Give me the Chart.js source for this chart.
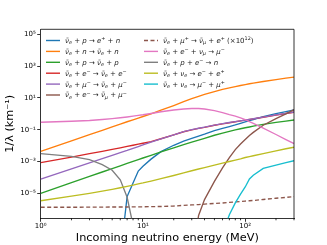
<!DOCTYPE html>
<html lang="en">
<head>
    <meta charset="UTF-8">
    <title>Neutrino opacities</title>
    <style>
        html, body { margin: 0; padding: 0; background: #fff; }
        canvas { display: block; }
    </style>
</head>
<body>
    <canvas id="myChart" width="327" height="245"></canvas>

    <script src="https://cdn.jsdelivr.net/npm/chart.js"></script>
    <script>
        // energy grid (MeV) shared by every curve
        const energy = [1, 2, 3, 4, 5, 6, 7, 8, 9, 10, 12, 15, 20, 25, 30, 35, 40, 50, 60, 70, 80, 90, 100, 110, 120, 150, 200, 250, 300];

        // 1/lambda (km^-1), null = not plotted
        const ibd = [null, null, null, null, null, 1e-9, 6.2e-6, 4.5e-5, 2.5e-4, 5.0e-4, 1.41e-3, 4.2e-3, 0.0105, 0.019, 0.0282, 0.0398, 0.0525, 0.0871, 0.120, 0.158, 0.200, 0.251, 0.309, 0.372, 0.437, 0.661, 1.02, 1.38, 1.74];
        const nScat = [4.4e-3, 2.0e-2, 4.9e-2, 9.1e-2, 0.151, 0.224, 0.316, 0.417, 0.537, 0.676, 1.0, 1.70, 3.31, 5.75, 8.91, 12.6, 16.6, 25.1, 33.9, 42.7, 51.3, 60.3, 69.2, 77.6, 85.1, 107, 141, 174, 204];
        const pScat = [1.0e-5, 4.68e-5, 1.15e-4, 2.19e-4, 3.55e-4, 5.37e-4, 7.59e-4, 1.02e-3, 1.32e-3, 1.66e-3, 2.45e-3, 3.98e-3, 7.24e-3, 0.0115, 0.0166, 0.0224, 0.0288, 0.0447, 0.0617, 0.0794, 0.0977, 0.115, 0.132, 0.148, 0.166, 0.214, 0.288, 0.347, 0.407];
        const eScat = [8.5e-4, 1.9e-3, 3.16e-3, 4.37e-3, 5.75e-3, 7.24e-3, 8.91e-3, 0.0105, 0.0123, 0.0141, 0.0178, 0.0269, 0.0479, 0.0741, 0.0977, 0.120, 0.141, 0.191, 0.234, 0.275, 0.316, 0.355, 0.398, 0.437, 0.479, 0.603, 0.832, 1.05, 1.26];
        const muScat = [7.9e-5, 3.47e-4, 8.3e-4, 1.51e-3, 2.45e-3, 3.63e-3, 5.0e-3, 6.76e-3, 8.71e-3, 0.011, 0.0166, 0.0263, 0.0468, 0.0759, 0.100, 0.123, 0.145, 0.195, 0.240, 0.282, 0.324, 0.363, 0.407, 0.447, 0.490, 0.617, 0.851, 1.07, 1.29];
        const eToMu = [null, null, null, null, null, null, null, null, null, null, null, null, null, null, 1e-9, 4.0e-7, 4.0e-6, 5.6e-5, 4.0e-4, 1.78e-3, 5.6e-3, 0.0126, 0.024, 0.0427, 0.0676, 0.191, 0.501, 1.0, 1.82];
        const muToE = [1.32e-6, 1.32e-6, 1.35e-6, 1.35e-6, 1.38e-6, 1.38e-6, 1.38e-6, 1.41e-6, 1.41e-6, 1.41e-6, 1.45e-6, 1.48e-6, 1.58e-6, 1.74e-6, 1.86e-6, 1.95e-6, 2.09e-6, 2.29e-6, 2.45e-6, 2.69e-6, 2.88e-6, 3.02e-6, 3.24e-6, 3.39e-6, 3.55e-6, 4.07e-6, 4.9e-6, 5.5e-6, 6.2e-6];
        const invMuDecay = [0.292, 0.339, 0.380, 0.437, 0.501, 0.562, 0.631, 0.708, 0.794, 0.871, 1.05, 1.35, 1.74, 2.0, 2.14, 2.14, 2.0, 1.58, 1.20, 0.891, 0.708, 0.550, 0.427, 0.324, 0.251, 0.126, 0.050, 0.024, 0.0135];
        const pe3body = [3.16e-3, 2.09e-3, 1.32e-3, 6.3e-4, 2.82e-4, 7.1e-5, 5.6e-6, 1.0e-7, null, null, null, null, null, null, null, null, null, null, null, null, null, null, null, null, null, null, null, null, null];
        const annihE = [3.39e-6, 6.6e-6, 1.0e-5, 1.38e-5, 1.78e-5, 2.24e-5, 2.75e-5, 3.31e-5, 3.89e-5, 4.47e-5, 5.89e-5, 8.3e-5, 1.32e-4, 1.91e-4, 2.63e-4, 3.39e-4, 4.17e-4, 5.89e-4, 7.94e-4, 1.0e-3, 1.23e-3, 1.48e-3, 1.78e-3, 2.04e-3, 2.29e-3, 3.16e-3, 4.68e-3, 6.31e-3, 7.94e-3];
        const annihMu = [null, null, null, null, null, null, null, null, null, null, null, null, null, null, null, null, null, null, 3e-8, 4.5e-7, 2.5e-6, 8.9e-6, 2.5e-5, 7.9e-5, 1.38e-4, 3.72e-4, 6.0e-4, 8.5e-4, 1.12e-3];

        // legend labels (_ = subscript, ^ = superscript)
        const labels = [
            'ν̄_e + p → e^+ + n',
            'ν̄_e + n → ν̄_e + n',
            'ν̄_e + p → ν̄_e + p',
            'ν̄_e + e^− → ν̄_e + e^−',
            'ν̄_e + μ^− → ν̄_e + μ^−',
            'ν̄_e + e^− → ν̄_μ + μ^−',
            'ν̄_e + μ^+ → ν̄_μ + e^+ (×10^{12})',
            'ν̄_e + e^− + ν_μ → μ^−',
            'ν̄_e + p + e^− → n',
            'ν̄_e + ν_e → e^− + e^+',
            'ν̄_e + ν_e → μ^− + μ^+'
        ];
        const series = [ibd, nScat, pScat, eScat, muScat, eToMu, muToE, invMuDecay, pe3body, annihE, annihMu];
        const colors = ['#1f77b4', '#ff7f0e', '#2ca02c', '#d62728', '#9467bd', '#8c564b', '#8c564b', '#e377c2', '#7f7f7f', '#bcbd22', '#17becf'];

        // axis ticks
        const xTickValues = [1, 10, 100];
        const xTickLabels = ['10⁰', '10¹', '10²'];
        const xMinorTicks = [2, 3, 4, 5, 6, 7, 8, 9, 20, 30, 40, 50, 60, 70, 80, 90, 200, 300];
        const yTickValues = [1e-5, 1e-3, 1e-1, 1e1, 1e3, 1e5];
        const yTickLabels = ['10⁻⁵', '10⁻³', '10⁻¹', '10¹', '10³', '10⁵'];

        const FONT = '"DejaVu Sans", sans-serif';

        // draws "a_b^c" style text, letters in italic like mathtext
        function drawRich(ctx, str, x, y, size) {
            const re = /([_^])(\{[^}]*\}|.\p{M}*)/gu;
            const parts = [];
            let last = 0, m;
            while ((m = re.exec(str))) {
                if (m.index > last) parts.push({ t: str.slice(last, m.index), k: 'n' });
                let t = m[2];
                if (t[0] === '{') t = t.slice(1, -1);
                parts.push({ t: t, k: m[1] });
                last = re.lastIndex;
            }
            if (last < str.length) parts.push({ t: str.slice(last), k: 'n' });

            let cx = x;
            parts.forEach(p => {
                const s = p.k === 'n' ? size : size * 0.7;
                const dy = p.k === '_' ? size * 0.2 : (p.k === '^' ? -size * 0.38 : 0);
                const runs = p.t.match(/(\p{L}\p{M}*)+|[^\p{L}]+/gu) || [];
                runs.forEach(r => {
                    const it = /\p{L}/u.test(r) ? 'italic ' : '';
                    ctx.font = it + s + 'px ' + FONT;
                    ctx.fillText(r, cx, y + dy);
                    cx += ctx.measureText(r).width;
                });
            });
        }

        const framePlugin = {
            id: 'framePlugin',
            afterDraw(chart) {
                const { ctx, chartArea: a, scales } = chart;
                ctx.save();
                ctx.strokeStyle = '#000';
                ctx.lineWidth = 0.8;
                ctx.beginPath();
                ctx.moveTo(a.left, a.top);
                ctx.lineTo(a.right, a.top);
                ctx.lineTo(a.right, a.bottom);
                xMinorTicks.forEach(v => {
                    const px = scales.x.getPixelForValue(v);
                    ctx.moveTo(px, a.bottom);
                    ctx.lineTo(px, a.bottom + 2);
                });
                ctx.stroke();

                // legend in two columns
                ctx.fillStyle = '#222';
                ctx.textBaseline = 'alphabetic';
                labels.forEach((lab, i) => {
                    const col = i < 6 ? 0 : 1;
                    const row = col === 0 ? i : i - 6;
                    const x0 = col === 0 ? 46 : 144;
                    const y0 = 40.5 + row * 10.9;
                    ctx.strokeStyle = colors[i];
                    ctx.lineWidth = 1.4;
                    ctx.setLineDash(i === 6 ? [4, 2.5] : []);
                    ctx.beginPath();
                    ctx.moveTo(x0, y0);
                    ctx.lineTo(x0 + 14, y0);
                    ctx.stroke();
                    ctx.setLineDash([]);
                    drawRich(ctx, lab, x0 + 19, y0 + 2.4, 7);
                });
                ctx.restore();
            }
        };

        const ctx = document.getElementById('myChart').getContext('2d');
        const myChart = new Chart(ctx, {
            type: 'line',
            data: {
                datasets: series.map((vals, i) => ({
                    label: labels[i],
                    data: energy.map((e, j) => ({ x: e, y: vals[j] })),
                    borderColor: colors[i],
                    borderWidth: 1.35,
                    borderDash: i === 6 ? [4, 2.5] : [],
                    pointRadius: 0,
                    fill: false,
                    tension: 0,
                    spanGaps: false,
                    order: series.length - i
                }))
            },
            options: {
                responsive: false,
                animation: false,
                devicePixelRatio: 1,
                layout: { padding: { top: 29.3, right: 33, left: 0, bottom: 0 } },
                plugins: { legend: { display: false }, tooltip: { enabled: false } },
                scales: {
                    x: {
                        type: 'logarithmic',
                        min: 1,
                        max: 300,
                        afterBuildTicks: s => { s.ticks = xTickValues.map(v => ({ value: v })); },
                        afterFit: s => { s.height = 26.7; },
                        ticks: {
                            autoSkip: false,
                            maxRotation: 0,
                            padding: 0.5,
                            color: '#000',
                            font: { family: FONT, size: 7 },
                            callback: (v, i) => xTickLabels[i]
                        },
                        grid: { drawOnChartArea: false, drawTicks: true, tickLength: 3.5, tickColor: '#000', tickWidth: 0.8 },
                        border: { display: true, color: '#000', width: 0.8 },
                        title: {
                            display: true,
                            text: 'Incoming neutrino energy (MeV)',
                            color: '#000',
                            font: { family: FONT, size: 11.3 },
                            padding: { top: 0, bottom: 0 }
                        }
                    },
                    y: {
                        type: 'logarithmic',
                        min: 2.68e-7,
                        max: 2.06e5,
                        afterBuildTicks: s => { s.ticks = yTickValues.map(v => ({ value: v })); },
                        afterFit: s => { s.width = 40.7; },
                        ticks: {
                            autoSkip: false,
                            padding: 1.5,
                            color: '#000',
                            font: { family: FONT, size: 7 },
                            callback: (v, i) => yTickLabels[i]
                        },
                        grid: { drawOnChartArea: false, drawTicks: true, tickLength: 3.5, tickColor: '#000', tickWidth: 0.8 },
                        border: { display: true, color: '#000', width: 0.8 },
                        title: {
                            display: true,
                            text: '1/λ (km⁻¹)',
                            color: '#000',
                            font: { family: FONT, size: 11.3 },
                            padding: { top: 3, bottom: 0 }
                        }
                    }
                }
            },
            plugins: [framePlugin]
        });
    </script>
</body>
</html>
